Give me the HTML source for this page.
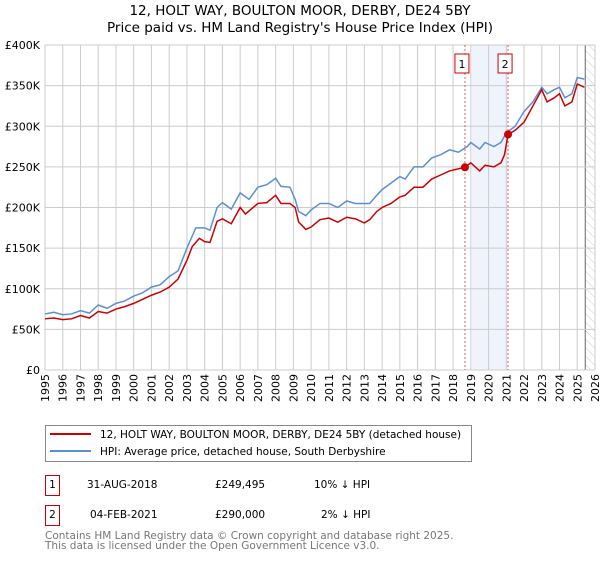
<!DOCTYPE html>
<html><head><meta charset="utf-8">
<style>
body{margin:0;background:#fff;font-family:"DejaVu Sans","Liberation Sans",sans-serif;}
svg text{font-family:"DejaVu Sans","Liberation Sans",sans-serif;}
</style></head>
<body>
<svg width="600" height="560" viewBox="0 0 600 560" xmlns="http://www.w3.org/2000/svg">
<defs><pattern id="hatch" width="6" height="6" patternUnits="userSpaceOnUse" patternTransform="rotate(-45)"><line x1="0" y1="0" x2="0" y2="6" stroke="#ccc" stroke-width="1"/></pattern></defs>
<text x="300" y="15" text-anchor="middle" font-size="13.5" fill="#000">12, HOLT WAY, BOULTON MOOR, DERBY, DE24 5BY</text>
<text x="300" y="32" text-anchor="middle" font-size="13.5" fill="#000">Price paid vs. HM Land Registry's House Price Index (HPI)</text>
<g id="grid"></g>
<g id="marks"></g>
<g id="axes"></g>
<rect x="45.5" y="425.5" width="426" height="36" fill="#fff" stroke="#888"/>
<line x1="50" y1="434" x2="91" y2="434" stroke="#cc0000" stroke-width="2"/>
<text x="100" y="438" font-size="10.5">12, HOLT WAY, BOULTON MOOR, DERBY, DE24 5BY (detached house)</text>
<line x1="50" y1="451" x2="91" y2="451" stroke="#5b8fd4" stroke-width="2"/>
<text x="100" y="455" font-size="10.5">HPI: Average price, detached house, South Derbyshire</text>
<g>
<rect x="45.5" y="475.5" width="14" height="20" fill="#fff" stroke="#cc0000"/><text x="52.5" y="488" font-size="10.5" text-anchor="middle">1</text>
<text x="87" y="488" font-size="10.5">31-AUG-2018</text><text x="215" y="488" font-size="10.5">£249,495</text><text x="314" y="488" font-size="10.5">10% ↓ HPI</text></g>
<g>
<rect x="45.5" y="505.5" width="14" height="20" fill="#fff" stroke="#cc0000"/><text x="52.5" y="518" font-size="10.5" text-anchor="middle">2</text>
<text x="90" y="518" font-size="10.5">04-FEB-2021</text><text x="215" y="518" font-size="10.5">£290,000</text><text x="321" y="518" font-size="10.5">2% ↓ HPI</text></g>
<text x="45" y="539" font-size="10.5" fill="#777">Contains HM Land Registry data © Crown copyright and database right 2025.</text>
<text x="45" y="549" font-size="10.5" fill="#777">This data is licensed under the Open Government Licence v3.0.</text>
</svg>
<script>
const hpiYears=[1995,1995.5,1996,1996.5,1997,1997.5,1998,1998.5,1999,1999.5,2000,2000.5,2001,2001.5,2002,2002.5,2003,2003.5,2004,2004.3,2004.7,2005,2005.5,2006,2006.5,2007,2007.5,2008,2008.3,2008.8,2009.1,2009.3,2009.7,2010,2010.5,2011,2011.5,2012,2012.5,2013,2013.3,2013.7,2014,2014.5,2015,2015.3,2015.8,2016.3,2016.8,2017.3,2017.8,2018.3,2018.8,2019,2019.5,2019.8,2020.3,2020.7,2021,2021.5,2022,2022.5,2023,2023.3,2023.7,2024,2024.3,2024.7,2025,2025.4];
const hpiValues=[69,71,68,69,73,70,80,76,82,85,91,95,102,105,115,122,150,175,175,172,200,206,198,218,210,225,228,236,226,225,210,195,190,197,205,205,200,208,205,205,205,215,222,230,238,235,250,250,261,265,271,268,275,280,272,280,275,280,292,300,318,330,348,340,345,348,335,340,360,358];
const redYears=[1995,1995.5,1996,1996.5,1997,1997.5,1998,1998.5,1999,1999.5,2000,2000.5,2001,2001.5,2002,2002.5,2003,2003.3,2003.7,2004,2004.3,2004.7,2005,2005.5,2006,2006.3,2007,2007.5,2008,2008.3,2008.8,2009.1,2009.3,2009.7,2010,2010.5,2011,2011.5,2012,2012.5,2013,2013.3,2013.7,2014,2014.5,2015,2015.3,2015.8,2016.3,2016.8,2017.3,2017.8,2018.67,2019,2019.5,2019.8,2020.3,2020.7,2020.9,2021.1,2021.5,2022,2022.5,2023,2023.3,2023.7,2024,2024.3,2024.7,2025,2025.4];
const redValues=[63,64,62,63,67,64,72,70,75,78,82,87,92,96,102,112,135,152,162,158,157,183,186,180,200,192,205,206,215,205,205,200,182,173,176,185,187,182,188,186,181,185,195,200,205,213,215,225,225,235,240,245,249.5,255,245,252,250,255,265,290,295,305,325,345,330,335,340,325,330,352,348];
const saleYears=[2018.67,2021.1];
const saleValues=[249.495,290];
const saleLabels=["1","2"];
const yTicks=[0,50,100,150,200,250,300,350,400];
const yTickLabels=["£0","£50K","£100K","£150K","£200K","£250K","£300K","£350K","£400K"];
const xTicks=[1995,1996,1997,1998,1999,2000,2001,2002,2003,2004,2005,2006,2007,2008,2009,2010,2011,2012,2013,2014,2015,2016,2017,2018,2019,2020,2021,2022,2023,2024,2025,2026];
const NS="http://www.w3.org/2000/svg";
const L=45,R=595,T=45,B=370;
const xS=y=>L+(y-1995)/(2026-1995)*(R-L);
const yS=v=>B-v/400*(B-T);
function mk(tag,attrs,parent){const e=document.createElementNS(NS,tag);for(const k in attrs)e.setAttribute(k,attrs[k]);parent.appendChild(e);return e;}
const grid=document.getElementById('grid'),marks=document.getElementById('marks'),axes=document.getElementById('axes');
const bg=mk('rect',{x:L,y:T,width:R-L,height:B-T,fill:'#fff'},grid);


const band=mk('rect',{x:xS(2019.05),y:T,width:xS(saleYears[1])-xS(2019.05),height:B-T,fill:'#eef3fc'},grid);


const hat=mk('rect',{x:xS(2025.45),y:T,width:R-xS(2025.45),height:B-T,fill:'url(#hatch)'},grid);


mk('line',{x1:xS(2025.45),y1:T,x2:xS(2025.45),y2:B,stroke:'#666','stroke-width':1},grid);
xTicks.forEach(t=>{const l=mk('line',{x1:xS(t),y1:T,x2:xS(t),y2:B,stroke:'#ccc','stroke-width':1},grid);


const tx=mk('text',{x:0,y:0,'font-size':11,'text-anchor':'end',transform:`translate(${xS(t)+4},${B+4}) rotate(-90)`},axes);tx.textContent=t;

});
yTicks.forEach((t,i)=>{const l=mk('line',{x1:L,y1:yS(t),x2:R,y2:yS(t),stroke:'#ccc','stroke-width':1},grid);


const tx=mk('text',{x:L-5,y:yS(t)+4,'font-size':11,'text-anchor':'end'},axes);tx.textContent=yTickLabels[i];

});
saleYears.forEach((y,i)=>{const l=mk('line',{x1:xS(y),y1:T,x2:xS(y),y2:B,stroke:'#e06060','stroke-width':1,'stroke-dasharray':'2,2'},marks);

});
const hp=mk('polyline',{points:hpiYears.map((y,i)=>xS(y)+','+yS(hpiValues[i])).join(' '),fill:'none',stroke:'#5b8fd4','stroke-width':1.5},marks);


const rp=mk('polyline',{points:redYears.map((y,i)=>xS(y)+','+yS(redValues[i])).join(' '),fill:'none',stroke:'#cc0000','stroke-width':1.5},marks);


saleYears.forEach((y,i)=>{const c=mk('circle',{cx:xS(y),cy:yS(saleValues[i]),r:4,fill:'#cc0000'},marks);


const g=mk('g',{},marks);


mk('rect',{x:xS(y)-10,y:54,width:14,height:19,fill:'#fff',stroke:'#cc0000'},g);
const t=mk('text',{x:xS(y)-3,y:68,'font-size':11,'text-anchor':'middle'},g);t.textContent=saleLabels[i];});
</script>
</body></html>
